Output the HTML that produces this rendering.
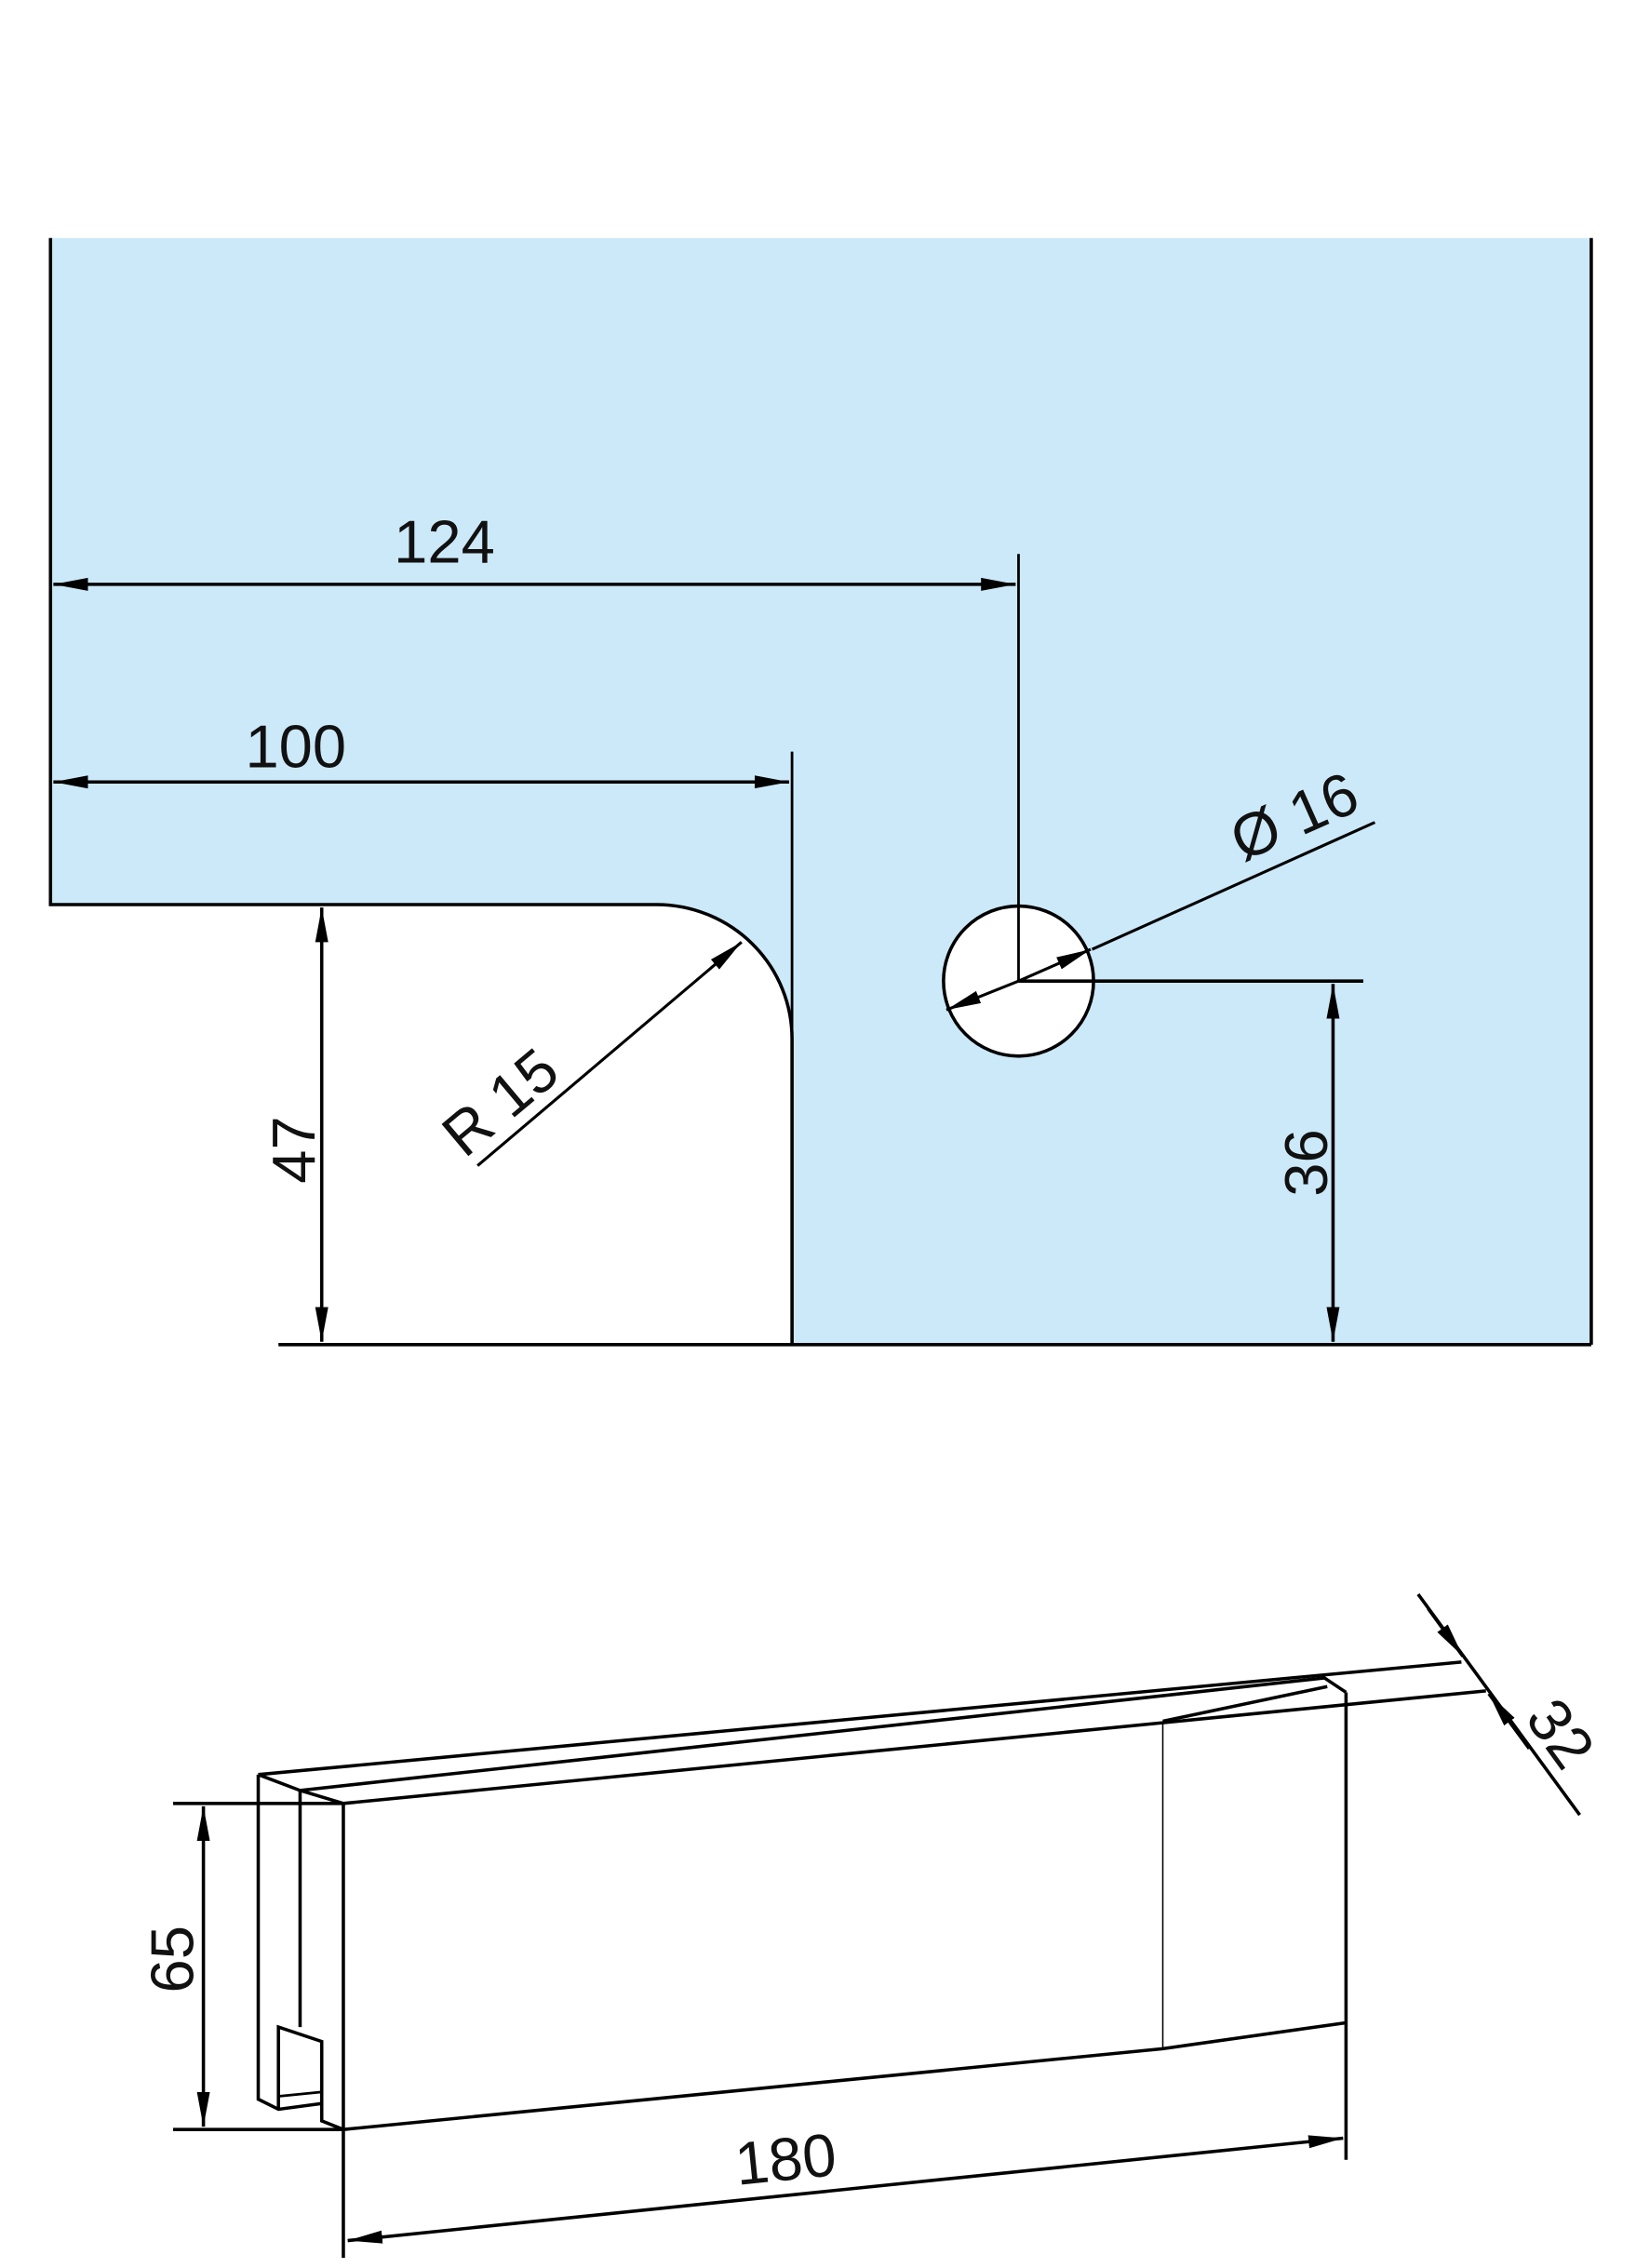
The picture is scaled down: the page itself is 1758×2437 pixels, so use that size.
<!DOCTYPE html>
<html><head><meta charset="utf-8"><style>
html,body{margin:0;padding:0;background:#fff;}
svg{display:block;}
text{font-family:"Liberation Sans","DejaVu Sans",sans-serif;fill:#111;}
</style></head><body>
<svg width="1758" height="2437" viewBox="0 0 1134 1572" xmlns="http://www.w3.org/2000/svg">
<defs>
<marker id="a" viewBox="0 0 24 10" refX="24" refY="5" markerWidth="24" markerHeight="10" markerUnits="userSpaceOnUse" orient="auto-start-reverse">
<path d="M0,0.5 L24,5 L0,9.5 Z" fill="#000"/>
</marker>
</defs>
<g stroke="#000" fill="none" stroke-width="2.3">
<path d="M35,165 H1103 V932 H549 V720 A94,93 0 0 0 455,627 H35 Z" fill="#cce9f9" stroke="none"/>
<path d="M35,165 V627 H455 A94,93 0 0 1 549,720 V932"/>
<path d="M1103,165 V932"/>
<path d="M193,932 H1103"/>
<circle cx="706" cy="680" r="52" fill="#fff"/>
<line x1="706" y1="384" x2="706" y2="680" stroke-width="1.8"/>
<line x1="549" y1="521" x2="549" y2="932" stroke-width="1.8"/>
<line x1="37" y1="405" x2="704" y2="405" marker-start="url(#a)" marker-end="url(#a)"/>
<line x1="37" y1="542" x2="547" y2="542" marker-start="url(#a)" marker-end="url(#a)"/>
<line x1="706" y1="680" x2="945" y2="680"/>
<line x1="924" y1="682" x2="924" y2="930" marker-start="url(#a)" marker-end="url(#a)"/>
<line x1="223" y1="629" x2="223" y2="930" marker-start="url(#a)" marker-end="url(#a)"/>
<line x1="953" y1="570" x2="757" y2="658" stroke-width="2"/>
<line x1="706" y1="680" x2="756" y2="658" marker-end="url(#a)" stroke-width="2"/>
<line x1="706" y1="680" x2="656" y2="700" marker-end="url(#a)" stroke-width="2"/>
<line x1="331" y1="808" x2="514" y2="653" marker-end="url(#a)" stroke-width="2"/>

<path d="M179,1230 L1013,1152"/>
<path d="M238,1250 L1030,1172"/>
<path d="M208,1241 L918,1163 L933,1173"/>
<path d="M806,1193 L920,1169"/>
<path d="M179,1230 L208,1241 L238,1250"/>
<path d="M933,1173 V1497"/>
<line x1="806" y1="1193" x2="806" y2="1420" stroke-width="1"/>
<path d="M238,1476 L806,1420 L933,1402"/>
<path d="M238,1250 V1565"/>
<path d="M179,1230 V1455 L193,1462 L223,1458"/>
<path d="M208,1241 V1405"/>
<path d="M193,1462 V1405 L223,1415 V1470 L238,1476"/>
<path d="M193,1453 L223,1450" stroke-width="1.8"/>
<path d="M120,1250 H238"/>
<path d="M120,1476 H238"/>
<line x1="141" y1="1252" x2="141" y2="1474" marker-start="url(#a)" marker-end="url(#a)"/>
<line x1="241" y1="1553" x2="931" y2="1482" marker-start="url(#a)" marker-end="url(#a)"/>
<line x1="983" y1="1105" x2="1095" y2="1258"/>
<line x1="990" y1="1115" x2="1014" y2="1148" marker-end="url(#a)"/>
<line x1="1060" y1="1212" x2="1032" y2="1174" marker-end="url(#a)"/>
</g>
<g font-size="42">
<text x="308" y="390" text-anchor="middle">124</text>
<text x="205" y="532" text-anchor="middle">100</text>
<text transform="translate(218,797) rotate(-90)" text-anchor="middle">47</text>
<text transform="translate(920,806) rotate(-90)" text-anchor="middle">36</text>
<text transform="translate(356,775) rotate(-40)" text-anchor="middle">R 15</text>
<text transform="translate(903,579) rotate(-24)" text-anchor="middle">Ø 16</text>
<text transform="translate(134,1358) rotate(-90)" text-anchor="middle">65</text>
<text transform="translate(546,1511) rotate(-5.8)" text-anchor="middle">180</text>
<text transform="translate(1070,1210) rotate(54)" text-anchor="middle">32</text>
</g>
</svg>
</body></html>
